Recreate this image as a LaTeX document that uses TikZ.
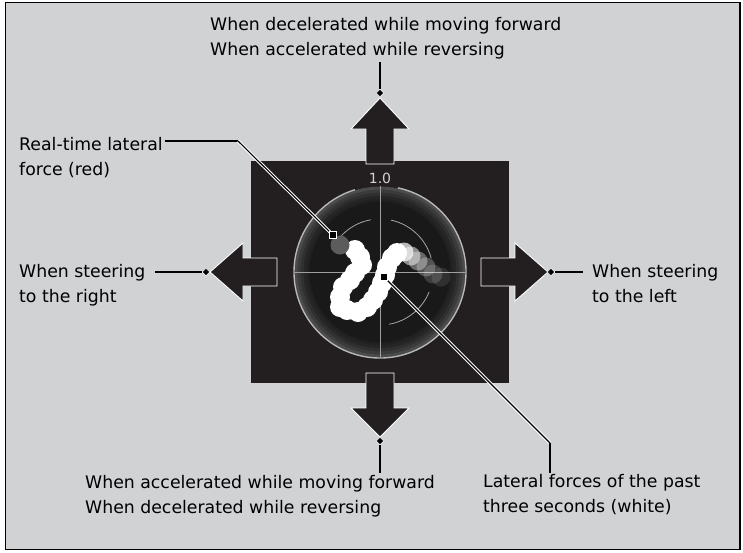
\documentclass[tikz,border=0pt]{standalone}
\usepackage{fontspec}
\setmainfont{DejaVu Sans}
\usetikzlibrary{shapes.geometric}

\definecolor{panelgray}{HTML}{D1D2D4}
\definecolor{screendark}{HTML}{231F20}
\definecolor{ringgray}{HTML}{B8B8B8}

\tikzset{
  callouttext/.style={font=\fontsize{17.3}{24.5}\selectfont, align=left, inner sep=0pt, anchor=base west},
  bigarrow/.style={fill=screendark, draw=white, line width=0.9pt, line join=miter},
  tipmark/.style={diamond, fill=black, draw=white, line width=0.5pt, inner sep=0pt, minimum size=7.5pt},
  sqmark/.style={rectangle, fill=black, inner sep=0pt, minimum size=6.5pt, preaction={fill=white, draw=white, line width=2pt}},
  lead/.style={draw=black, line width=1.8pt},
  leadhalo/.style={draw=black, line width=1.1pt, preaction={draw=white, line width=3.2pt}},
  blob/.style={fill=white}
}

\begin{document}
\begin{tikzpicture}[x=1pt,y=-1pt]
\useasboundingbox (0,0) rectangle (743,552);

% Panel with border
\draw[fill=panelgray, line width=1.5pt] (5.5,2.5) rectangle (740,549.5);

% Display screen
\fill[screendark] (251,161) rectangle (509,383);

% Four direction arrows
\draw[bigarrow] (366,164) -- (366,129) -- (351,129) -- (380,98) -- (409,129) -- (394,129) -- (394,164) -- cycle;
\draw[bigarrow] (366,373) -- (394,373) -- (394,408) -- (409,408) -- (380,437) -- (351,408) -- (366,408) -- cycle;
\draw[bigarrow] (277,258) -- (243,258) -- (243,243) -- (210,272) -- (243,301) -- (243,286) -- (277,286) -- cycle;
\draw[bigarrow] (481,258) -- (515,258) -- (515,243) -- (548,272) -- (515,301) -- (515,286) -- (481,286) -- cycle;

% G-force gauge
\coordinate (gc) at (380,272);
\fill[black!90] (gc) circle[radius=86];
\foreach \r/\o in {84/0.22, 81/0.15, 78/0.10, 75/0.06, 72/0.035}
  \draw[white, opacity=\o, line width=3pt] (gc) circle[radius=\r];
\draw[ringgray, line width=1.4pt] (gc) ++(-78:86) arc[start angle=-78, end angle=253, radius=86];
\draw[gray!70, line width=0.8pt] (gc) ++(-100:53) arc[start angle=-100, end angle=-155, radius=53];
\draw[gray!70, line width=0.8pt] (gc) ++(-15:53) arc[start angle=-15, end angle=-78, radius=53];
\draw[gray!70, line width=0.8pt] (gc) ++(22:53) arc[start angle=22, end angle=80, radius=53];
\draw[gray!75, line width=1pt] (294,272) -- (466,272);
\draw[gray!75, line width=1pt] (380,186) -- (380,358);
\node[font=\fontsize{14}{14}\selectfont, text=gray!35, inner sep=0pt] (scale) at (380,178) {1.0};

% Past lateral forces (white) and real-time force
\foreach \x/\y in {355/250, 360/257, 362/265, 355/273, 350/280, 343/287, 340/297, 340/307,
                   347/310, 358/312, 367/307, 373/300, 378/292, 382/283, 385/275, 387/267,
                   392/258, 397/253}
  \fill[blob] (\x,\y) circle[radius=10];
\foreach \x/\y/\o in {404/252/0.7, 411/256/0.5, 418/261/0.35, 426/267/0.25, 433/274/0.16, 441/277/0.1}
  \fill[blob, opacity=\o] (\x,\y) circle[radius=9.5];
\fill[gray!72!black] (340,245) circle[radius=9.5];

% Callout texts
\node[callouttext] (txtup) at (210,55) {When decelerated while moving forward\\When accelerated while reversing};
\node[callouttext] (txtred) at (19,175) {Real-time lateral\\force (red)};
\node[callouttext] (txtright) at (19,302) {When steering\\to the right};
\node[callouttext] (txtleft) at (592,302) {When steering\\to the left};
\node[callouttext] (txtdown) at (85,513) {When accelerated while moving forward\\When decelerated while reversing};
\node[callouttext] (txtpast) at (483,512) {Lateral forces of the past\\three seconds (white)};

% Markers
\node[tipmark] (upmark) at (380,93) {};
\node[tipmark] (downmark) at (380,441) {};
\node[tipmark] (rightmark) at (206,272) {};
\node[tipmark] (leftmark) at (551,272) {};
\coordinate (upend) at (380,62);
\coordinate (downend) at (380,473);
\coordinate (rightend) at (155,272);
\coordinate (leftend) at (583,272);
\coordinate (redend) at (165,141);
\coordinate (redbend) at (238,141);
\coordinate (whitebend) at (550,443);
\coordinate (whiteend) at (550,473);
\coordinate (redpt) at (333,235);
\coordinate (whitept) at (384,277);

% Leader lines
\draw[lead] (upend) -- (upmark.north);
\draw[lead] (downmark.south) -- (downend);
\draw[lead] (rightend) -- (rightmark.west);
\draw[lead] (leftmark.east) -- (leftend);
\draw[lead] (redend) -- (redbend);
\draw[leadhalo] (redbend) -- (redpt);
\draw[leadhalo] (whitept) -- (whitebend);
\draw[lead] (whitebend) -- (whiteend);
\node[sqmark] (redmark) at (redpt) {};
\node[sqmark] (whitemark) at (whitept) {};

\end{tikzpicture}
\end{document}
